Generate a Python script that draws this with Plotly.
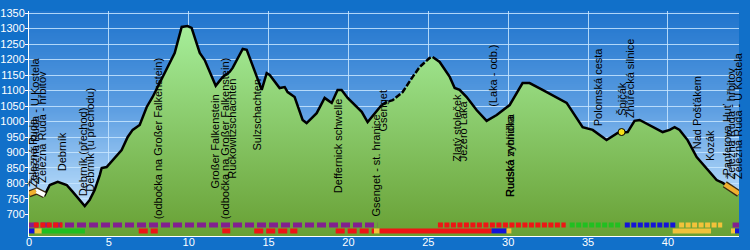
import base64
import struct
import zlib

import plotly.graph_objects as go

# ---------------- data ----------------
# elevation profile (km, m a.s.l.)
km = [0.0, 0.48, 0.98, 1.30, 1.80, 2.36, 2.74, 3.30, 3.49, 3.80, 4.11, 4.43, 4.55, 4.86,
      5.36, 5.80, 6.18, 6.49, 6.93, 7.37, 7.74, 8.18, 8.62, 8.93, 9.12, 9.56, 9.93, 10.18,
      10.69, 11.00, 11.69, 12.13, 12.56, 12.75, 13.38, 13.63, 13.82, 14.32, 14.57, 14.88,
      15.07, 15.69, 16.01, 16.19, 16.63, 17.13, 17.38, 18.01, 18.51, 18.70, 18.95, 19.32,
      19.57, 19.95, 20.51, 20.83, 21.20, 21.64, 22.08, 22.39, 22.77, 23.39, 24.02, 24.46,
      25.08, 25.27, 25.71, 26.34, 26.65, 26.96, 27.40, 28.02, 28.65, 29.28, 30.09, 30.90,
      31.34, 32.15, 33.66, 34.66, 35.29, 36.16, 36.47, 36.85, 37.48, 37.91, 38.23, 39.04,
      39.67, 40.11, 40.42, 40.73, 41.04, 41.23, 41.80, 42.61, 43.05, 43.43, 44.45]
elev = [766, 776, 763, 795, 805, 795, 773, 737, 727, 747, 779, 827, 850, 853,
        882, 908, 950, 973, 989, 1047, 1079, 1124, 1173, 1205, 1221, 1305, 1308, 1302,
        1221, 1198, 1115, 1144, 1160, 1173, 1234, 1231, 1205, 1140, 1102, 1156,
        1150, 1108, 1111, 1095, 1079, 1005, 995, 1027, 1076, 1069, 1060, 1102,
        1102, 1076, 1047, 1031, 998, 1027, 1053, 1063, 1069, 1095, 1144, 1176,
        1205, 1208, 1192, 1144, 1108, 1102, 1079, 1037, 1002, 1021, 1053, 1124,
        1124, 1102, 1060, 982, 973, 940, 950, 963, 966, 1002, 1005, 982,
        966, 973, 982, 973, 950, 940, 885, 837, 811, 802, 767]

# section of the route drawn dashed (unclear path)
dashed_from = 22.08
dashed_to = 25.27

# waypoint labels
label_text = ["Železná Ruda", "Železná Ruda - U Kostela", "Železná Ruda - hřbitov", "Debrník",
              "Debrník (přechod)", "Debrník (u přechodu)", "(odbočka na Großer Falkenstein)",
              "Großer Falkenstein", "(odbočka na Großer Falkenstein)", "Ruckowitzschachten",
              "Sulzschachten", "Deffernick schwelle", "Gsenget - st. hranice", "Gsenget",
              "Zlatý stoleček", "Jezero Laka", "(Laka - odb.)", "Rudská vyhlídka",
              "Rudská zvonička", "Polomská cesta", "Špičák", "Zhůřecká silnice",
              "Nad Pošťákem", "Kozák", "Panferova Huť", "Železná Ruda - hřbitov",
              "Železná Ruda - U Kostela"]
label_km = [0.23, 0.36, 0.79, 2.05, 3.36, 3.80, 8.06, 11.62, 12.25, 12.69, 14.25, 19.32,
            21.70, 22.14, 26.77, 27.15, 29.03, 30.09, 30.12, 35.60, 37.16, 37.60, 41.80,
            42.60, 43.67, 43.97, 44.35]
label_elev = [785, 795, 798, 837, 756, 769, 682, 779, 682, 811, 902, 766, 689, 963,
              866, 869, 1043, 753, 753, 982, 1014, 1008, 908, 869, 821, 811, 811]

x_ticks = [0, 5, 10, 15, 20, 25, 30, 35, 40]
y_ticks = [700, 750, 800, 850, 900, 950, 1000, 1050, 1100, 1150, 1200, 1250, 1300, 1350]

# trail markings shown under the profile (row 1 = upper, row 2 = lower)
mark_row = [1, 1, 1, 1, 1, 1, 1,
            2, 2, 2, 2, 2, 2, 2, 2, 2, 2, 2, 2, 2, 2]
mark_color = ["purple", "red", "red", "green", "blue", "yellow", "purple",
              "blue", "yellow", "green", "red", "red", "red", "red", "yellow", "red",
              "blue", "yellow", "yellow", "yellow", "blue"]
mark_from = [0.0, 0.30, 25.60, 33.85, 37.30, 40.70, 44.05,
             0.0, 0.35, 0.80, 6.87, 12.10, 14.10, 19.20, 21.60, 21.95,
             28.96, 29.90, 40.30, 43.95, 44.20]
mark_to = [21.80, 2.10, 33.60, 37.10, 40.50, 43.40, 44.45,
           0.35, 0.80, 3.50, 8.06, 12.60, 16.80, 21.60, 21.95, 28.96,
           29.90, 30.20, 42.70, 44.20, 44.45]
mark_kind = ["dashes", "dots", "dots", "dots", "dots", "dots", "solid",
             "solid", "solid", "solid", "dashes", "dashes", "dashes", "dashes", "solid",
             "solid", "solid", "solid", "solid", "solid", "solid"]

# highlighted parts of the profile line
hl_from = [0.0, 0.45, 43.56]
hl_to = [0.45, 0.98, 44.45]
hl_color = ["orange", "white", "orange"]

# point of interest on the profile
poi_km = [37.10]
poi_elev = [966]

# ---------------- styling ----------------
COLORS = {"purple": "#82208f", "red": "#ee1515", "green": "#20bf20", "blue": "#1414d8",
          "yellow": "#f2c23a", "orange": "#f0b030", "white": "#ffffff"}
KIND_DASH = {"dashes": "9px,3px", "dots": "5px,1.5px", "solid": "solid"}
ROW_Y = {1: 666, 2: 647}
Y_RANGE = [630.6, 1356.5]
X_RANGE = [0, 44.45]
FONT = "Liberation Sans, Arial, sans-serif"


def interp(x, xs, ys):
    for i in range(len(xs) - 1):
        if xs[i] <= x <= xs[i + 1]:
            t = (x - xs[i]) / (xs[i + 1] - xs[i]) if xs[i + 1] != xs[i] else 0
            return ys[i] + t * (ys[i + 1] - ys[i])
    return ys[-1]


def section(a, b):
    xs = [a] + [k for k in km if a < k < b] + [b]
    ys = [interp(x, km, elev) for x in xs]
    return xs, ys


def gradient_png(stops, n=256):
    raw = b""
    for i in range(n):
        t = i / (n - 1)
        for j in range(len(stops) - 1):
            t0, c0 = stops[j]
            t1, c1 = stops[j + 1]
            if t0 <= t <= t1:
                f = (t - t0) / (t1 - t0)
                rgb = [int(round(c0[k] + f * (c1[k] - c0[k]))) for k in range(3)]
                break
        raw += b"\x00" + bytes(rgb) * 2

    def chunk(tag, data):
        return (struct.pack(">I", len(data)) + tag + data
                + struct.pack(">I", zlib.crc32(tag + data) & 0xffffffff))

    png = (b"\x89PNG\r\n\x1a\n"
           + chunk(b"IHDR", struct.pack(">IIBBBBB", 2, n, 8, 2, 0, 0, 0))
           + chunk(b"IDAT", zlib.compress(raw))
           + chunk(b"IEND", b""))
    return "data:image/png;base64," + base64.b64encode(png).decode()


bg_uri = gradient_png([(0.0, (31, 116, 205)), (0.44, (94, 159, 226)),
                       (0.75, (165, 207, 245)), (1.0, (213, 235, 253))])

fig = go.Figure()

# green area
fig.add_trace(go.Scatter(
    x=km, y=elev, mode="lines", line=dict(width=0), fill="tozeroy",
    fillgradient=dict(type="vertical", colorscale=[[0, "#68a034"], [1, "#a6ee9a"]],
                      start=Y_RANGE[0], stop=1308),
    hoverinfo="skip"))

# trail markings
for r, c, a, b, k in zip(mark_row, mark_color, mark_from, mark_to, mark_kind):
    fig.add_trace(go.Scatter(
        x=[a, b], y=[ROW_Y[r], ROW_Y[r]], mode="lines",
        line=dict(color=COLORS[c], width=5, dash=KIND_DASH[k]), hoverinfo="skip"))

# profile line: solid parts and dashed part
sx, sy = [], []
for x, y in zip(km, elev):
    if x <= dashed_from or x >= dashed_to:
        sx.append(x)
        sy.append(y)
    if x == dashed_from:
        sx.append(None)
        sy.append(None)
fig.add_trace(go.Scatter(x=sx, y=sy, mode="lines", connectgaps=False,
                         line=dict(color="black", width=2.5), hoverinfo="skip"))
dx, dy = section(dashed_from, dashed_to)
fig.add_trace(go.Scatter(x=dx, y=dy, mode="lines",
                         line=dict(color="black", width=2.5, dash="6px,2px"),
                         hoverinfo="skip"))

# highlighted sections
for a, b, c in zip(hl_from, hl_to, hl_color):
    hx, hy = section(a, b)
    fig.add_trace(go.Scatter(x=hx, y=hy, mode="lines",
                             line=dict(color="#3a2a10", width=7), hoverinfo="skip"))
for a, b, c in zip(hl_from, hl_to, hl_color):
    hx, hy = section(a, b)
    fig.add_trace(go.Scatter(x=hx, y=hy, mode="lines",
                             line=dict(color=COLORS[c], width=4.5), hoverinfo="skip"))

fig.add_trace(go.Scatter(x=poi_km, y=poi_elev, mode="markers",
                         marker=dict(color="#f5e01a", size=7, symbol="circle",
                                     line=dict(color="black", width=1)),
                         hoverinfo="skip"))

annotations = []
for t, x, y in zip(label_text, label_km, label_elev):
    annotations.append(dict(x=x, y=y, xref="x", yref="y", text=t, showarrow=False,
                            textangle=-90, xanchor="center", yanchor="bottom",
                            borderpad=0, font=dict(family=FONT, size=11, color="black")))

fig.update_layout(
    width=750, height=250,
    margin=dict(l=29, r=11, t=11, b=14, autoexpand=False),
    paper_bgcolor="#1170c9",
    plot_bgcolor="rgba(0,0,0,0)",
    showlegend=False,
    hovermode=False,
    template="none",
    annotations=annotations,
    images=[dict(source=bg_uri, xref="paper", yref="paper", x=0, y=1, sizex=1, sizey=1,
                 xanchor="left", yanchor="top", sizing="stretch", layer="below")],
    xaxis=dict(range=X_RANGE, tickvals=x_ticks, showgrid=True,
               gridcolor="rgba(200,230,255,0.85)", gridwidth=1, zeroline=False,
               showline=True, linecolor="white", linewidth=1, ticks="",
               ticklabelstandoff=-4,
               tickfont=dict(family=FONT, size=11, color="white"), automargin=False),
    yaxis=dict(range=Y_RANGE, tickvals=y_ticks, showgrid=True,
               gridcolor="rgba(200,230,255,0.85)", gridwidth=1, zeroline=False,
               showline=True, linecolor="white", linewidth=1, ticks="outside",
               ticklen=3, tickcolor="white", ticklabelstandoff=-2,
               tickfont=dict(family=FONT, size=11, color="white"), automargin=False),
)

fig.write_html("out.html")
